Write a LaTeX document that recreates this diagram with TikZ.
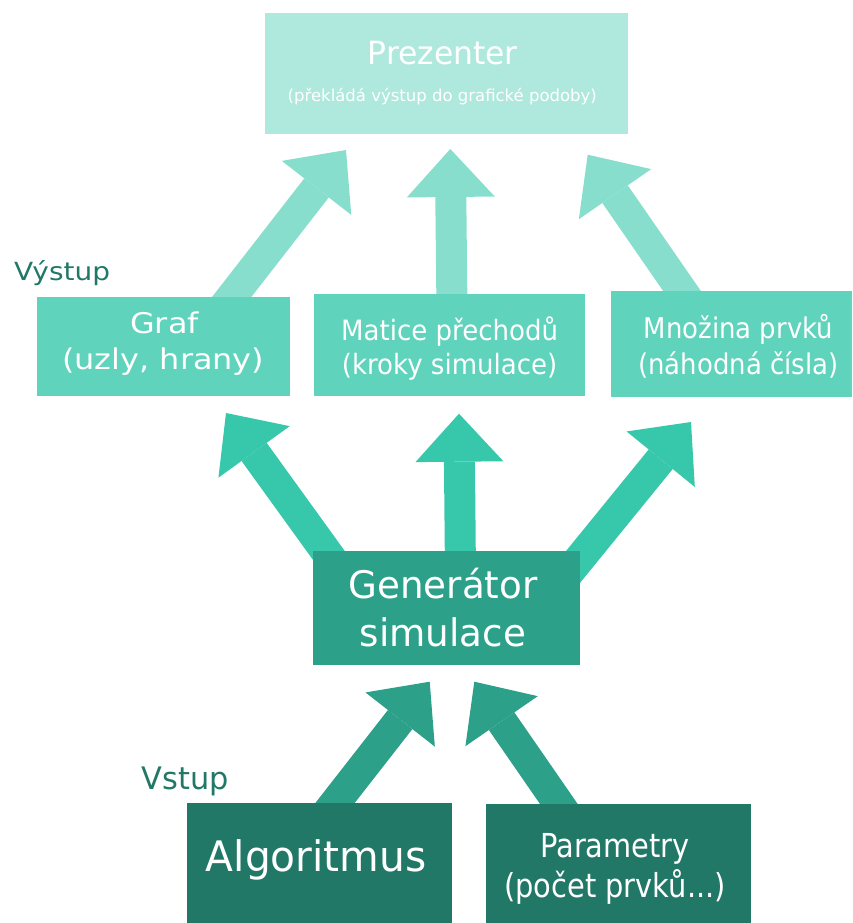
\documentclass[tikz,border=0pt]{standalone}
\usepackage{fontspec}
\setmainfont{DejaVu Sans}
\usetikzlibrary{arrows.meta}
\pgfdeclarelayer{bg}
\pgfsetlayers{bg,main}
\definecolor{cPrez}{HTML}{AFE9DD}
\definecolor{cArrTop}{HTML}{87DECD}
\definecolor{cOut}{HTML}{5FD3BC}
\definecolor{cArrMid}{HTML}{37C8AB}
\definecolor{cGen}{HTML}{2CA089}
\definecolor{cIn}{HTML}{217867}
\newcommand{\fsz}[1]{\fontsize{#1}{#1}\selectfont}
\newcommand{\hsx}[2]{\scalebox{#1}[1]{#2}}
\tikzset{
  boxnode/.style={rectangle, inner sep=0pt, outer sep=0pt, draw=none},
  txt/.style={anchor=base, inner sep=0pt, outer sep=0pt, text=white},
  lbl/.style={anchor=base west, inner sep=0pt, outer sep=0pt, text=cIn},
  bigarrow/.style={line width=31pt, line cap=butt,
    -{Triangle[length=48pt,width=88pt,line width=0pt]}}
}
\begin{document}
\begin{tikzpicture}[x=1pt,y=-1pt]
\useasboundingbox (0,0) rectangle (852,923);
% boxes
\node[boxnode, fill=cPrez, minimum width=363pt, minimum height=121pt] (prez) at (446.5,73.5) {};
\node[boxnode, fill=cOut, minimum width=253pt, minimum height=99pt] (graf) at (163.5,346.5) {};
\node[boxnode, fill=cOut, minimum width=271pt, minimum height=102pt] (matice) at (449.5,345) {};
\node[boxnode, fill=cOut, minimum width=241pt, minimum height=106pt] (mnoz) at (731.5,344) {};
\node[boxnode, fill=cGen, minimum width=267pt, minimum height=114pt] (gen) at (446.5,608) {};
\node[boxnode, fill=cIn, minimum width=265pt, minimum height=120pt] (algo) at (319.5,863) {};
\node[boxnode, fill=cIn, minimum width=265pt, minimum height=119pt] (param) at (618.5,863.5) {};
% texts
\node[txt] (prez1) at (442.8,64.7) {\fsz{32}\hsx{0.98}{Prezenter}};
\node[txt] (prez2) at (442.3,101.3) {\fsz{16.5}(překládá výstup do grafické podoby)};
\node[txt] (graf1) at (164.5,333) {\fsz{28.5}\hsx{1.12}{Graf}};
\node[txt] (graf2) at (163.3,369) {\fsz{28.5}\hsx{1.12}{(uzly, hrany)}};
\node[txt] (mat1) at (449.6,340) {\fsz{28}\hsx{0.93}{Matice přechodů}};
\node[txt] (mat2) at (449.6,374.5) {\fsz{28}\hsx{0.93}{(kroky simulace)}};
\node[txt] (mno1) at (738.4,338) {\fsz{28.5}\hsx{0.91}{Množina prvků}};
\node[txt] (mno2) at (738.4,374.5) {\fsz{28.5}\hsx{0.91}{(náhodná čísla)}};
\node[txt] (gen1) at (443,598) {\fsz{38}\hsx{0.98}{Generátor}};
\node[txt] (gen2) at (443,646) {\fsz{38}\hsx{0.98}{simulace}};
\node[txt] (algo1) at (316.3,871.7) {\fsz{42}\hsx{0.97}{Algoritmus}};
\node[txt] (par1) at (615,857.3) {\fsz{33}\hsx{0.875}{Parametry}};
\node[txt] (par2) at (615,897) {\fsz{33}\hsx{0.875}{(počet prvků...)}};
\node[lbl] (vystup) at (14,280) {\fsz{25}\hsx{1.12}{Výstup}};
\node[lbl] (vstup) at (141.7,789.3) {\fsz{31}\hsx{0.98}{Vstup}};
% arrow end points
\coordinate (a1s) at (220,312);
\coordinate (a1t) at (346,150);
\coordinate (a2s) at (452,312);
\coordinate (a2t) at (450.3,149);
\coordinate (a3s) at (693.4,307.4);
\coordinate (a3t) at (587.7,154.7);
\coordinate (b1s) at (343,575);
\coordinate (b1t) at (226,413);
\coordinate (b2s) at (460.5,575);
\coordinate (b2t) at (459,413.7);
\coordinate (b3s) at (557.6,585.9);
\coordinate (b3t) at (691,422);
\coordinate (c1s) at (322.5,819);
\coordinate (c1t) at (429.7,681.7);
\coordinate (c2s) at (570.2,820.4);
\coordinate (c2t) at (474.3,681.7);
\begin{pgfonlayer}{bg}
\draw[bigarrow, cArrTop] (a1s) -- (a1t);
\draw[bigarrow, cArrTop] (a2s) -- (a2t);
\draw[bigarrow, cArrTop] (a3s) -- (a3t);
\draw[bigarrow, cArrMid] (b1s) -- (b1t);
\draw[bigarrow, cArrMid] (b2s) -- (b2t);
\draw[bigarrow, cArrMid] (b3s) -- (b3t);
\draw[bigarrow, cGen] (c1s) -- (c1t);
\draw[bigarrow, cGen] (c2s) -- (c2t);
\end{pgfonlayer}
\end{tikzpicture}
\end{document}
